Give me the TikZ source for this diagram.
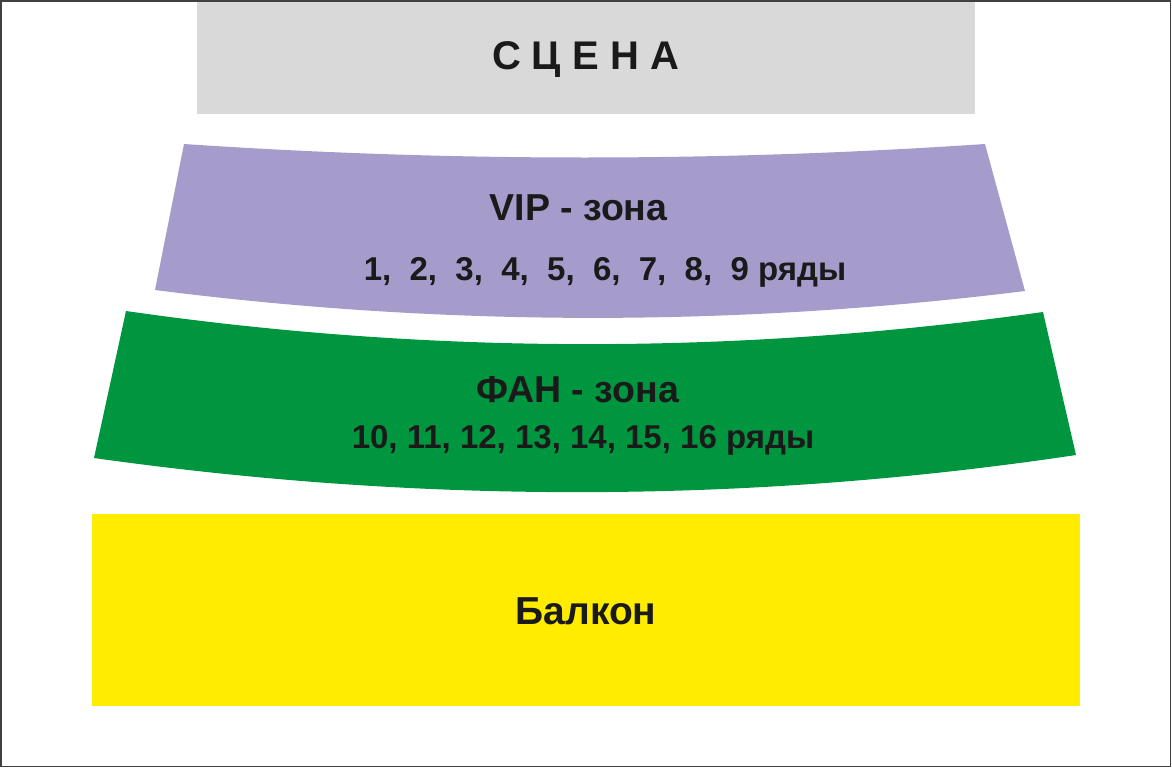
\documentclass[tikz,border=0pt]{standalone}
\usepackage{fontspec}
\setmainfont{Liberation Sans}
\usepackage{tikz}
\definecolor{stagegray}{HTML}{D9D9D9}
\definecolor{viplilac}{HTML}{A59CCC}
\definecolor{fangreen}{HTML}{00963F}
\definecolor{balcyellow}{HTML}{FFEC00}
\definecolor{framegray}{HTML}{404040}
\definecolor{inkblack}{HTML}{1A1A1A}
\tikzset{
	zonelabel/.style={inner sep=0pt, anchor=base, text=inkblack, font=\bfseries\fontsize{#1}{#1}\selectfont},
	zonelabel/.default=36
}

\begin{document}
\begin{tikzpicture}[x=1pt,y=-1pt]
	\useasboundingbox (0,0) rectangle (1172,768);
	
	\fill[color=stagegray] (197,0) -- (975,0) -- (975,114) -- (197,114) -- cycle;
	
	\fill[color=viplilac] (184,144) .. controls (451,162) and (718,162) .. (985,144)
		-- (1025,291) .. controls (735,327) and (445,327) .. (155,290) -- cycle;
	
	\fill[color=fangreen] (126,311) .. controls (432,355) and (737,355) .. (1043,312)
		-- (1076,455) .. controls (749,504) and (421,504) .. (94,458) -- cycle;
	
	\fill[color=balcyellow] (92,514) -- (1080,514) -- (1080,706) -- (92,706) -- cycle;
	
	\draw[line width=1.8pt, color=framegray] (1,1) rectangle (1170.5,766.5);
	
	\node[zonelabel=40] (stage) at (585.5,70) {С Ц Е Н А};
	
	\node[zonelabel=37.5] (viptitle) at (578.5,220) {VIP - зона};
	
	\node[zonelabel=33] (viprows) at (605,280) {1,\ \ 2,\ \ 3,\ \ 4,\ \ 5,\ \ 6,\ \ 7,\ \ 8,\ \ 9 ряды};
	
	\node[zonelabel=37.5] (fantitle) at (577.5,402) {ФАН - зона};
	
	\node[zonelabel=33] (fanrows) at (583,448) {10, 11, 12, 13, 14, 15, 16 ряды};
	
	\node[zonelabel=39] (balcony) at (586,624) {Балкон};
	
\end{tikzpicture}
\end{document}
